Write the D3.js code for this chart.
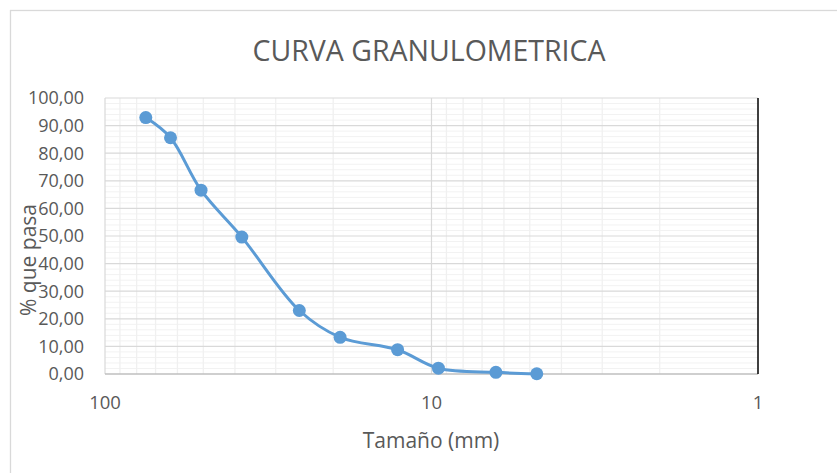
<!DOCTYPE html>
<html>
<head>
<meta charset="utf-8">
<script src="https://cdn.jsdelivr.net/npm/d3@7"></script>
<style>
  body { margin: 0; background: #fff; }
  text { font-family: "Open Sans", sans-serif; fill: #595959; }
</style>
</head>
<body>
<div id="chart"></div>
<script>
// sieve sizes (mm) and percent passing
var sizes = [75, 63, 50.8, 38.1, 25.4, 19.05, 12.7, 9.525, 6.35, 4.76]
var passing = [92.9, 85.6, 66.6, 49.6, 23.0, 13.3, 8.8, 2.1, 0.6, 0.1]
var xTicks = [100, 10, 1]
var yTicks = [0, 10, 20, 30, 40, 50, 60, 70, 80, 90, 100]

var svgWidth = 837
var svgHeight = 473

var plot = { left: 105, right: 758, top: 98, bottom: 374 }

var svg = d3.select('#chart')
  .append('svg')
  .attr('width', svgWidth)
  .attr('height', svgHeight)

// outer chart border
svg.append('rect')
  .attr('x', 10.5)
  .attr('y', 10.5)
  .attr('width', 840)
  .attr('height', 480)
  .attr('fill', 'none')
  .attr('stroke', '#d9d9d9')
  .attr('stroke-width', 1.3)

// reversed log scale, 100 on the left
var xScale = d3.scaleLog()
  .domain([100, 1])
  .range([plot.left, plot.right])

var yScale = d3.scaleLinear()
  .domain([0, 100])
  .range([plot.bottom, plot.top])

var grid = svg.append('g')

// minor horizontal lines every 2
var yMinor = d3.range(0, 101, 2).filter(d => d % 10 != 0)
grid.selectAll('.yminor')
  .data(yMinor)
  .enter()
  .append('line')
  .attr('x1', plot.left).attr('x2', plot.right)
  .attr('y1', d => yScale(d)).attr('y2', d => yScale(d))
  .attr('stroke', '#f2f2f2')
  .attr('stroke-width', 1)

// minor vertical lines 2..9 in each decade
var xMinor = []
;[1, 10].forEach(function(base) {
  for (var k = 2; k <= 9; k++) xMinor.push(base * k)
})
grid.selectAll('.xminor')
  .data(xMinor)
  .enter()
  .append('line')
  .attr('x1', d => xScale(d)).attr('x2', d => xScale(d))
  .attr('y1', plot.top).attr('y2', plot.bottom)
  .attr('stroke', '#f0f0f0')
  .attr('stroke-width', 1.3)

// major horizontal lines
grid.selectAll('.ymajor')
  .data(yTicks.filter(d => d > 0))
  .enter()
  .append('line')
  .attr('x1', plot.left).attr('x2', plot.right)
  .attr('y1', d => yScale(d)).attr('y2', d => yScale(d))
  .attr('stroke', '#d9d9d9')
  .attr('stroke-width', 1.2)

// major vertical lines
grid.selectAll('.xmajor')
  .data([100, 10])
  .enter()
  .append('line')
  .attr('x1', d => xScale(d)).attr('x2', d => xScale(d))
  .attr('y1', plot.top).attr('y2', plot.bottom)
  .attr('stroke', '#d9d9d9')
  .attr('stroke-width', 1.2)

// bottom axis line
svg.append('line')
  .attr('x1', plot.left).attr('x2', plot.right)
  .attr('y1', plot.bottom).attr('y2', plot.bottom)
  .attr('stroke', '#bfbfbf')
  .attr('stroke-width', 1.5)

// vertical axis crosses at 1 (right side)
svg.append('line')
  .attr('x1', xScale(1)).attr('x2', xScale(1))
  .attr('y1', plot.top).attr('y2', plot.bottom)
  .attr('stroke', '#000')
  .attr('stroke-width', 1.5)

// y tick labels
var fmt = d3.format('.2f')
svg.append('g').selectAll('text')
  .data(yTicks)
  .enter()
  .append('text')
  .attr('x', 84)
  .attr('y', d => yScale(d))
  .attr('dy', '0.35em')
  .attr('text-anchor', 'end')
  .style('font-size', '18px')
  .text(d => fmt(d).replace('.', ','))

// x tick labels
svg.append('g').selectAll('text')
  .data(xTicks)
  .enter()
  .append('text')
  .attr('x', d => xScale(d))
  .attr('y', 409)
  .attr('text-anchor', 'middle')
  .style('font-size', '18.5px')
  .text(d => d)

// series
var data = sizes.map((s, i) => ({ size: s, pct: passing[i] }))

var line = d3.line()
  .x(d => xScale(d.size))
  .y(d => yScale(d.pct))
  .curve(d3.curveCatmullRom.alpha(0.5))

svg.append('path')
  .datum(data)
  .attr('d', line)
  .attr('fill', 'none')
  .attr('stroke', '#5b9bd5')
  .attr('stroke-width', 3)

svg.selectAll('.dot')
  .data(data)
  .enter()
  .append('circle')
  .attr('cx', d => xScale(d.size))
  .attr('cy', d => yScale(d.pct))
  .attr('r', 6.5)
  .attr('fill', '#5b9bd5')

// titles
svg.append('text')
  .attr('x', 429)
  .attr('y', 61)
  .attr('text-anchor', 'middle')
  .style('font-size', '28.5px')
  .text('CURVA GRANULOMETRICA')

svg.append('text')
  .attr('x', 431)
  .attr('y', 448)
  .attr('text-anchor', 'middle')
  .style('font-size', '21px')
  .text('Tamaño (mm)')

svg.append('text')
  .attr('transform', 'translate(36, 260) rotate(-90)')
  .attr('text-anchor', 'middle')
  .style('font-size', '21px')
  .text('% que pasa')
</script>
</body>
</html>
